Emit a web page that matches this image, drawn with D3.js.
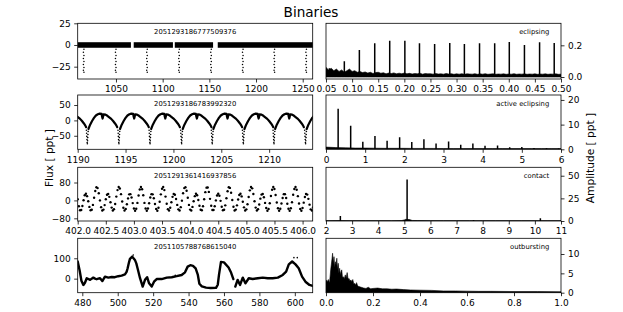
<!DOCTYPE html>
<html>
<head>
<meta charset="utf-8">
<script src="https://cdn.jsdelivr.net/npm/d3@7"></script>
<style>
  body { margin: 0; background: #fff; }
  text { font-family: "DejaVu Sans", sans-serif; }
</style>
</head>
<body>
<svg id="chart" width="623" height="312"></svg>
<script>
// ---------- data ----------
const TITLE = "Binaries";
const IDS = ["2051293186777509376", "2051293186783992320", "2051291361416937856", "2051105788768615040"];
const CLASSES = ["eclipsing", "active eclipsing", "contact", "outbursting"];

// eclipsing: light curve
const ecl_seg_start = [1009, 1069, 1113, 1159];
const ecl_seg_end = [1066, 1111, 1154, 1261];
const ecl_times = [1015.4, 1049.7, 1083.2, 1117.5, 1151.8, 1185.8, 1219.6, 1253.7];
const ecl_dip_dt = [0.3, -0.3, 0.3, -0.3, 0.3, -0.3, 0.3, -0.3, 0.3];
const ecl_dip_flux = [-5, -8.5, -12, -15.5, -19, -22.5, -26, -29, -31.5];
// eclipsing: periodogram
const ecl_noise_amp = [0.060,0.045,0.055,0.040,0.050,0.035,0.045,0.030,0.040,0.050,
  0.035,0.040,0.030,0.035,0.028,0.032,0.025,0.030,0.022,0.028,
  0.030,0.024,0.027,0.020,0.025,0.022,0.026,0.020,0.024,0.021,
  0.025,0.020,0.023,0.019,0.022,0.020,0.024,0.018,0.022,0.020,
  0.021,0.018,0.022,0.019,0.020,0.018,0.022,0.019,0.021,0.017,
  0.020,0.018,0.021,0.017,0.020,0.019,0.018,0.021,0.017,0.020,
  0.018,0.021,0.017,0.019,0.020,0.017,0.019,0.018,0.020,0.017,
  0.019,0.018,0.021,0.017,0.019,0.018,0.020,0.017,0.019,0.018,
  0.020,0.017,0.019,0.018,0.020,0.017,0.019,0.018,0.020,0.017,
  0.018];
const ecl_noise_f0 = 0.05, ecl_noise_step = 0.005;
const ecl_peak_freq = [0.0564, 0.0851, 0.1139, 0.1433, 0.1720, 0.2010, 0.2290, 0.2580, 0.2870, 0.3150, 0.3440, 0.3730, 0.4010, 0.4300, 0.4590, 0.4870];
const ecl_peak_amp = [0.055, 0.10, 0.170, 0.213, 0.229, 0.229, 0.213, 0.208, 0.215, 0.208, 0.213, 0.213, 0.221, 0.202, 0.219, 0.215];

// active eclipsing: light curve (one cycle shape after each primary dip)
const ae_dips = [1187.75, 1191.0, 1194.3, 1197.55, 1200.85, 1204.05, 1207.3, 1210.5, 1213.8];
const ae_shape_t = [0.12, 0.3, 0.5, 0.7, 0.9, 1.1, 1.3, 1.5, 1.55, 1.6, 1.65, 1.7, 1.9, 2.1, 2.3, 2.5, 2.7, 2.9, 3.05, 3.13];
const ae_shape_f = [-28, -14, -2, 8, 16, 20, 22, 21, 12, 6, 12, 20, 19, 15, 10, 5, -2, -10, -17, -22];
const ae_dip_dt = [-0.09, -0.07, -0.05, -0.03, -0.01, 0.01, 0.03, 0.05, 0.07, 0.09];
const ae_dip_f = [-32, -42, -52, -62, -72, -76, -66, -56, -46, -36];
// active eclipsing: periodogram
const ae_noise_freq = [0,0.25,0.5,0.75,1,1.25,1.5,1.75,2,2.25,2.5,2.75,3,3.25,3.5,3.75,4,4.25,4.5,4.75,5,5.25,5.5,5.75,6];
const ae_noise_amp = [0.9,0.7,0.6,0.5,0.5,0.45,0.4,0.4,0.4,0.35,0.35,0.35,0.3,0.3,0.3,0.3,0.3,0.3,0.3,0.3,0.3,0.3,0.3,0.3,0.3];
const ae_peak_freq = [0.31,0.63,0.94,1.25,1.56,1.88,2.19,2.50,2.81,3.13,3.44,3.75,4.06,4.38,4.69,5.00,5.31,5.63,5.94];
const ae_peak_amp = [16.4,9.5,3.1,5.4,3.5,4.9,3.0,4.1,2.3,3.2,1.8,2.3,1.4,1.5,0.8,0.9,0.5,0.4,0.3];

// contact: light curve, 30 min cadence from t = 402.0
const ct_t0 = 402.0, ct_cadence = 0.02083;
const ct_flux = [5,-26,-44,-43,-25,1,23,30,19,-4,-29,-44,-42,-20,12,42,59,55,32,
  0,-30,-45,-41,-21,5,25,29,16,-8,-32,-45,-39,-16,17,46,60,53,28,
  -5,-33,-45,-38,-17,9,27,28,13,-12,-36,-46,-37,-11,22,49,60,50,23,
  -11,-36,-46,-36,-13,13,28,27,10,-16,-38,-46,-33,-6,27,52,60,46,17,
  -15,-39,-45,-33,-8,16,29,25,6,-20,-40,-45,-30,-1,32,55,59,43,12,
  -20,-41,-45,-29,-4,19,30,23,2,-24,-42,-44,-26,5,37,57,58,38,7,
  -24,-43,-43,-26,0,22,30,21,-2,-28,-44,-42,-22,10,41,59,56,34,2,
  -28,-45,-41,-22,4,24,30,18,-6,-31,-45,-40,-17,15,45,60,54,29,-4,
  -32,-45,-39,-18,8,26,29,14,-11,-34,-46,-38,-13,20,48,60,51,24,-9,
  -35,-46,-37,-14,11,28,28,11,-15,-37,-46,-35,-8,25,51,60,48,19,-14,
  -38,-46,-34,-10,15,29,26,7,-19,-40,-45,-31];
// contact: periodogram
const ct_noise_freq = [2,2.5,3,3.5,4,4.5,4.9,5.0,5.05,5.2,5.3,5.5,6,6.5,7,7.5,8,8.5,9,9.5,10,10.5,11];
const ct_noise_amp = [0.4,0.5,0.4,0.4,0.4,0.4,0.5,1.2,1.8,1.6,0.6,0.5,0.4,0.4,0.4,0.4,0.4,0.4,0.4,0.4,0.4,0.4,0.4];
const ct_peak_freq = [2.55, 5.106, 7.65, 10.21];
const ct_peak_amp = [5.6, 45.9, 0.8, 3.0];

// outbursting: light curve (two segments) + loose points
const ob_t1 = [477.4,478.5,479.5,480.6,481.5,482.5,483.5,484.4,485.3,486.2,487.2,488.1,489.0,490.0,491.3,492.8,494.7,496.6,498.4,500.3,502.2,504.1,505.0,505.6,506.3,506.9,508.2,509.7,510.5,511.2,512.6,514.1,515.4,516.6,517.7,519.2,520.5,522.0,524.8,527.7,530.5,533.3,536.1,538.0,539.5,541.0,542.5,544.0,545.2,546.1,547.5,549.9,552.5,555.5,556.5,557.2,558.3,560.0,562.6,564.0,565.3];
const ob_f1 = [84,40,-10,-31,-20,2,-2,-6,0,5,0,-3,0,2,-12,10,5,8,7,12,15,21,33,51,78,97,108,92,75,51,2,-39,-6,7,-23,-39,-15,-2,-2,5,7,12,18,31,59,66,63,50,20,-25,-38,-44,-46,-45,-30,20,82,80,55,30,-2];
const ob_t2 = [566.4,567.7,569.1,570.6,572.1,574.0,576.2,579.1,581.9,584.7,587.5,590.4,593.2,595.1,596.6,598.5,600.4,602.2,604.1,606.0,608.3,610.1];
const ob_f2 = [-39,-6,-31,5,-23,2,-2,2,5,2,2,5,18,34,70,84,70,51,10,-15,-31,-36];
const ob_dot_t = [508.8, 532.5, 599.5, 601.4];
const ob_dot_f = [116, 16, 103, 103];
// outbursting: periodogram envelope
const ob_freq = [0,0.005,0.01,0.015,0.02,0.025,0.028,0.031,0.034,0.037,0.04,0.043,0.046,0.049,0.052,0.055,0.058,0.061,0.064,0.067,0.07,0.074,0.078,0.082,0.086,0.09,0.094,0.098,0.102,0.106,0.11,0.114,0.118,0.122,0.126,0.13,0.135,0.14,0.15,0.16,0.17,0.18,0.19,0.2,0.22,0.24,0.26,0.28,0.3,0.33,0.36,0.4,0.45,0.5,0.55,0.6,0.65,0.7,0.8,0.9,1.0];
const ob_amp = [3.3,2.8,3.4,2.5,5.9,8.5,10.2,7.5,9.3,6.5,8.0,7.0,8.9,6.0,7.6,5.0,6.3,4.6,5.5,5.9,4.0,4.1,3.6,4.6,3.8,5.2,3.5,3.7,3.0,3.3,2.8,3.4,2.3,2.4,2.0,2.6,1.7,1.6,1.4,1.2,1.1,1.4,1.0,1.1,1.2,1.0,1.0,0.9,0.95,0.8,0.7,0.65,0.6,0.45,0.45,0.4,0.35,0.35,0.3,0.3,0.25];

// ---------- layout ----------
const SVG = d3.select('#chart');
const LEFT_X = 77.7, RIGHT_X = 326, PANEL_W = 235;
const ROW_TOP = [23.3, 95.0, 167.3, 238.3];
const ROW_BOT = [79.0, 149.3, 221.0, 292.7];
const TICK_SIZE = 3.5, TICK_PAD = 3.5, TICK_FONT = 9;
const NOTE_FONT = 6.8;
let clip_n = 0;

/** 建一个子图 **/
function make_panel(col, row, xdom, ydom) {
    const px = col === 0 ? LEFT_X : RIGHT_X;
    const top = ROW_TOP[row], bottom = ROW_BOT[row];
    const xs = d3.scaleLinear().domain(xdom).range([px, px + PANEL_W]);
    const ys = d3.scaleLinear().domain(ydom).range([bottom, top]);
    const id = "clip" + (clip_n++);
    SVG.append("clipPath").attr("id", id).append("rect")
        .attr("x", px).attr("y", top).attr("width", PANEL_W).attr("height", bottom - top);
    const plot = SVG.append("g").attr("clip-path", `url(#${id})`);
    return {col, row, px, top, bottom, xs, ys, plot};
}

/** 坐标轴和边框 **/
function finish_panel(p, xticks, xfmt, yticks, yfmt, note, align) {
    const xa = d3.axisBottom(p.xs).tickValues(xticks).tickFormat(d3.format(xfmt))
        .tickSize(TICK_SIZE).tickPadding(TICK_PAD).tickSizeOuter(0);
    const gx = SVG.append("g").attr("transform", `translate(0,${p.bottom})`).call(xa);
    let ya, yx;
    if (p.col === 0) { ya = d3.axisLeft(p.ys); yx = p.px; }
    else { ya = d3.axisRight(p.ys); yx = p.px + PANEL_W; }
    ya.tickValues(yticks).tickFormat(d3.format(yfmt)).tickSize(TICK_SIZE).tickPadding(TICK_PAD).tickSizeOuter(0);
    const gy = SVG.append("g").attr("transform", `translate(${yx},0)`).call(ya);
    for (const g of [gx, gy]) {
        g.select(".domain").remove();
        g.selectAll("line").attr("stroke", "#000").attr("stroke-width", 0.8);
        g.selectAll("text").attr("font-size", TICK_FONT).attr("fill", "#000")
            .attr("font-family", "DejaVu Sans, sans-serif");
    }
    SVG.append("rect").attr("x", p.px).attr("y", p.top)
        .attr("width", PANEL_W).attr("height", p.bottom - p.top)
        .attr("fill", "none").attr("stroke", "#000").attr("stroke-width", 0.8);
    const tx = align === "middle" ? p.px + PANEL_W / 2 : p.px + PANEL_W * 0.95;
    SVG.append("text").text(note).attr("x", tx).attr("y", p.top + 11)
        .attr("text-anchor", align).attr("font-size", NOTE_FONT);
}

/** 画点 **/
function draw_dots(p, xs_data, ys_data, r) {
    p.plot.selectAll(null).data(xs_data).enter().append("circle")
        .attr("cx", (d) => p.xs(d)).attr("cy", (d, i) => p.ys(ys_data[i]))
        .attr("r", r).attr("fill", "#000");
}

/** 画曲线 **/
function draw_curve(p, tx, fy, w) {
    const line = d3.line().x((d) => p.xs(d[0])).y((d) => p.ys(d[1]));
    p.plot.append("path").attr("d", line(tx.map((t, i) => [t, fy[i]])))
        .attr("fill", "none").attr("stroke", "#000").attr("stroke-width", w)
        .attr("stroke-linejoin", "round").attr("stroke-linecap", "round");
}

/** 画周期图 **/
function draw_spectrum(p, freq, amp, peak_f, peak_a) {
    const area = d3.area().x((d) => p.xs(d[0])).y0(p.ys(0)).y1((d) => p.ys(d[1]));
    p.plot.append("path").attr("d", area(freq.map((f, i) => [f, amp[i]])))
        .attr("fill", "#000").attr("stroke", "#000").attr("stroke-width", 0.6);
    p.plot.selectAll(null).data(peak_f).enter().append("line")
        .attr("x1", (d) => p.xs(d)).attr("x2", (d) => p.xs(d))
        .attr("y1", p.ys(0)).attr("y2", (d, i) => p.ys(peak_a[i]))
        .attr("stroke", "#000").attr("stroke-width", 1.5);
}

// ---------- row 1: eclipsing ----------
let p = make_panel(0, 0, [1009, 1260.7], [-39.2, 25]);
const BAND = 3.2;
ecl_seg_start.forEach((s, i) => {
    p.plot.append("rect").attr("x", p.xs(s)).attr("width", p.xs(ecl_seg_end[i]) - p.xs(s))
        .attr("y", p.ys(BAND)).attr("height", p.ys(-BAND) - p.ys(BAND)).attr("fill", "#000");
});
for (const t of ecl_times) {
    draw_dots(p, ecl_dip_dt.map((d) => t + d), ecl_dip_flux, 0.75);
}
finish_panel(p, [1050, 1100, 1150, 1200, 1250], "d", [-25, 0, 25], "d", IDS[0], "middle");

p = make_panel(1, 0, [0.05, 0.5], [-0.0126, 0.339]);
draw_spectrum(p, ecl_noise_amp.map((a, i) => ecl_noise_f0 + i * ecl_noise_step), ecl_noise_amp, ecl_peak_freq, ecl_peak_amp);
finish_panel(p, [0.05, 0.10, 0.15, 0.20, 0.25, 0.30, 0.35, 0.40, 0.45, 0.50], ".2f", [0, 0.2], ".1f", CLASSES[0], "end");

// ---------- row 2: active eclipsing ----------
p = make_panel(0, 1, [1190, 1214.55], [-94, 82.6]);
for (const d0 of ae_dips) {
    draw_curve(p, ae_shape_t.map((t) => d0 + t), ae_shape_f, 2.2);
    draw_dots(p, ae_dip_dt.map((t) => d0 + t), ae_dip_f, 0.8);
}
finish_panel(p, [1190, 1195, 1200, 1205, 1210], "d", [-50, 0, 50], "d", IDS[1], "middle");

p = make_panel(1, 1, [0, 6], [0, 22]);
draw_spectrum(p, ae_noise_freq, ae_noise_amp, ae_peak_freq, ae_peak_amp);
finish_panel(p, [0, 1, 2, 3, 4, 5, 6], "d", [0, 10, 20], "d", CLASSES[1], "end");

// ---------- row 3: contact ----------
p = make_panel(0, 2, [402.0, 406.18], [-92, 148]);
draw_dots(p, ct_flux.map((f, i) => ct_t0 + i * ct_cadence), ct_flux, 1.2);
finish_panel(p, [402.0, 402.5, 403.0, 403.5, 404.0, 404.5, 405.0, 405.5, 406.0], ".1f", [-80, 0, 80], "d", IDS[2], "middle");

p = make_panel(1, 2, [2, 11], [0, 59.3]);
draw_spectrum(p, ct_noise_freq, ct_noise_amp, ct_peak_freq, ct_peak_amp);
finish_panel(p, [2, 3, 4, 5, 6, 7, 8, 9, 10, 11], "d", [0, 25, 50], "d", CLASSES[2], "end");

// ---------- row 4: outbursting ----------
p = make_panel(0, 3, [477.4, 610.1], [-69, 198]);
draw_curve(p, ob_t1, ob_f1, 2.4);
draw_curve(p, ob_t2, ob_f2, 2.4);
draw_dots(p, ob_dot_t, ob_dot_f, 0.8);
finish_panel(p, [480, 500, 520, 540, 560, 580, 600], "d", [0, 100], "d", IDS[3], "middle");

p = make_panel(1, 3, [0, 1], [0, 14.06]);
draw_spectrum(p, ob_freq, ob_amp, [], []);
finish_panel(p, [0, 0.2, 0.4, 0.6, 0.8, 1.0], ".1f", [0, 5, 10], "d", CLASSES[3], "end");

// ---------- titles ----------
SVG.append("text").text(TITLE).attr("x", 311).attr("y", 17)
    .attr("text-anchor", "middle").attr("font-size", 13.6);
SVG.append("text").text("Flux [ ppt ]").attr("transform", "translate(52.5,158) rotate(-90)")
    .attr("text-anchor", "middle").attr("font-size", 10.6);
SVG.append("text").text("Amplitude [ ppt ]").attr("transform", "translate(594,158) rotate(-90)")
    .attr("text-anchor", "middle").attr("font-size", 10.6);
</script>
</body>
</html>
